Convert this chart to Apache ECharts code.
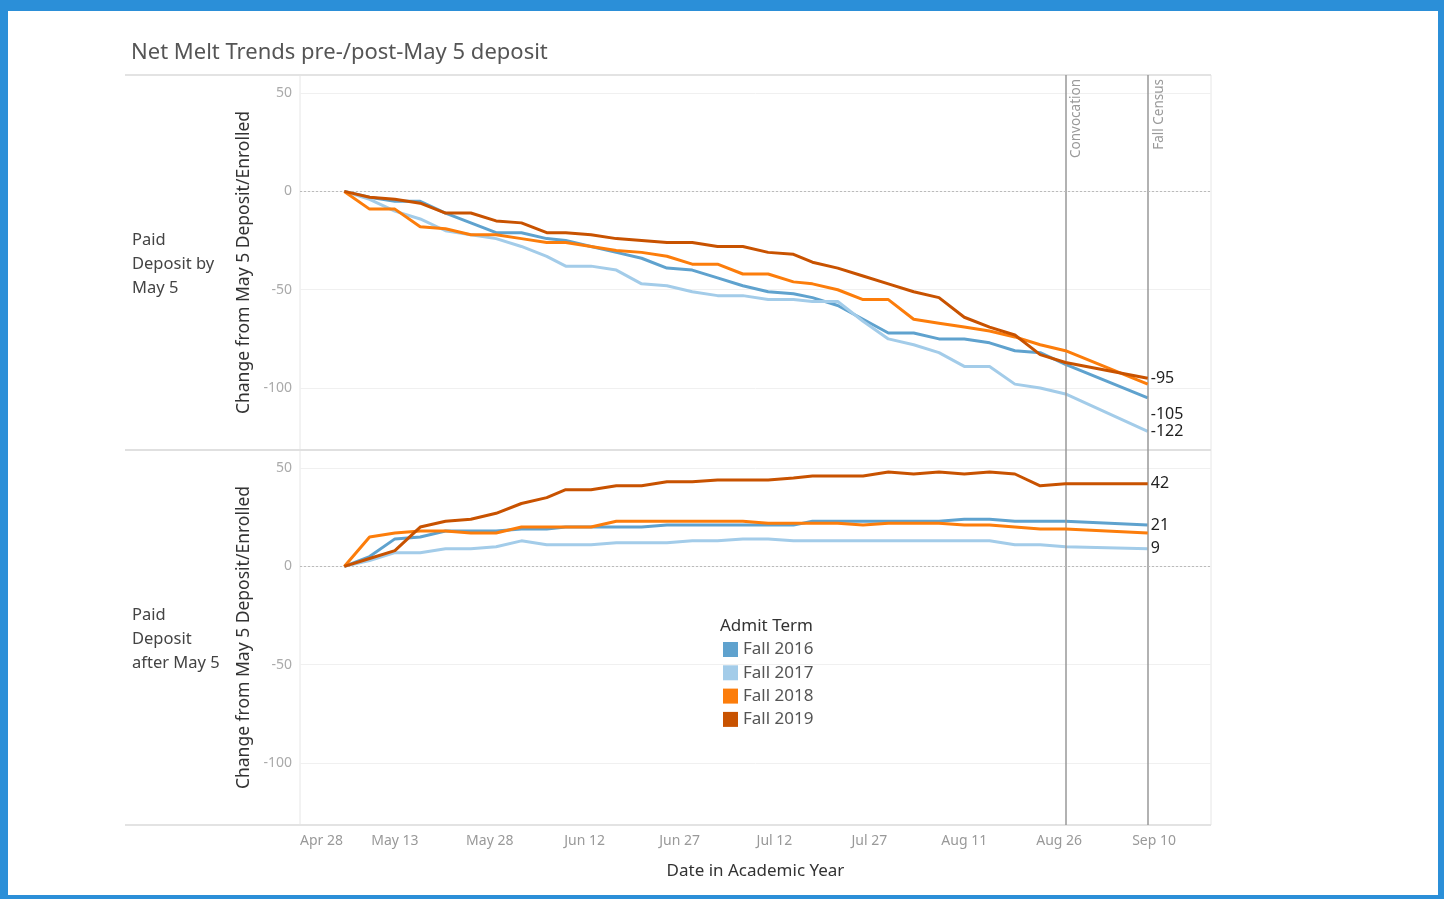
<!DOCTYPE html>
<html>
<head>
<meta charset="utf-8">
<title>Net Melt Trends</title>
<script src="https://cdn.jsdelivr.net/npm/echarts@6/dist/echarts.min.js"></script>
<style>
  html, body { margin: 0; padding: 0; background: #fff; }
  #chart { position: absolute; left: 0; top: 0; width: 1444px; height: 899px; }
  #frame {
    position: absolute; left: 0; top: 0; width: 1444px; height: 899px;
    box-sizing: border-box; border-style: solid; border-color: #2b8fd8;
    border-width: 11px 6px 4px 8px; pointer-events: none;
  }
</style>
</head>
<body>
<div id="chart"></div>
<div id="frame"></div>
<script>
// x axis: days counted from Apr 28
var tickDays = [0, 15, 30, 45, 60, 75, 90, 105, 120, 135];
var tickLabels = ['Apr 28', 'May 13', 'May 28', 'Jun 12', 'Jun 27', 'Jul 12', 'Jul 27', 'Aug 11', 'Aug 26', 'Sep 10'];
var yTicks = [50, 0, -50, -100];

var terms = ['Fall 2016', 'Fall 2017', 'Fall 2018', 'Fall 2019'];
var eventNames = ['Convocation', 'Fall Census'];
var eventDays = [121, 134];

// day 7 = May 5
var days = [7, 11, 15, 19, 23, 27, 31, 35, 39, 42, 46, 50, 54, 58, 62, 66, 70, 74, 78, 81,
  85, 89, 93, 97, 101, 105, 109, 113, 117, 121, 134];

// Paid deposit by May 5
var byMay5_2016 = [0, -3, -5, -5, -11, -16, -21, -21, -24, -25, -28, -31, -34, -39, -40, -44, -48, -51, -52, -54,
  -58, -65, -72, -72, -75, -75, -77, -81, -82, -88, -105];
var byMay5_2017 = [0, -4, -10, -14, -20, -22, -24, -28, -33, -38, -38, -40, -47, -48, -51, -53, -53, -55, -55, -56,
  -56, -66, -75, -78, -82, -89, -89, -98, -100, -103, -122];
var byMay5_2018 = [0, -9, -9, -18, -19, -22, -22, -24, -26, -26, -28, -30, -31, -33, -37, -37, -42, -42, -46, -47,
  -50, -55, -55, -65, -67, -69, -71, -74, -78, -81, -98];
var byMay5_2019 = [0, -3, -4, -6, -11, -11, -15, -16, -21, -21, -22, -24, -25, -26, -26, -28, -28, -31, -32, -36,
  -39, -43, -47, -51, -54, -64, -69, -73, -83, -87, -95];

// Paid deposit after May 5
var afterMay5_2016 = [0, 5, 14, 15, 18, 18, 18, 19, 19, 20, 20, 20, 20, 21, 21, 21, 21, 21, 21, 23,
  23, 23, 23, 23, 23, 24, 24, 23, 23, 23, 21];
var afterMay5_2017 = [0, 3, 7, 7, 9, 9, 10, 13, 11, 11, 11, 12, 12, 12, 13, 13, 14, 14, 13, 13,
  13, 13, 13, 13, 13, 13, 13, 11, 11, 10, 9];
var afterMay5_2018 = [0, 15, 17, 18, 18, 17, 17, 20, 20, 20, 20, 23, 23, 23, 23, 23, 23, 22, 22, 22,
  22, 21, 22, 22, 22, 21, 21, 20, 19, 19, 17];
var afterMay5_2019 = [0, 4, 8, 20, 23, 24, 27, 32, 35, 39, 39, 41, 41, 43, 43, 44, 44, 44, 45, 46,
  46, 46, 48, 47, 48, 47, 48, 47, 41, 42, 42];

var colors = ['#5fa2ce', '#a3cce9', '#fc7d0b', '#c85200'];
var font = 'Noto Sans';

var myChart = echarts.init(document.getElementById('chart'));

function pairs(vals) {
  return days.map(function (d, i) { return [d, vals[i]]; });
}

function xAxisFor(grid, show) {
  return {
    type: 'value', gridIndex: grid, min: 0, max: 144,
    axisLine: { show: false }, axisTick: { show: false }, splitLine: { show: false },
    name: show ? 'Date in Academic Year' : '',
    nameLocation: 'middle', nameGap: 38,
    nameTextStyle: { color: '#333', fontSize: 17, fontFamily: font },
    axisLabel: {
      show: show, margin: 9, color: '#999', fontSize: 14, fontFamily: font,
      customValues: tickDays, alignMinLabel: 'left',
      formatter: function (v) { return tickLabels[tickDays.indexOf(v)]; }
    }
  };
}

function yAxisFor(grid) {
  return {
    type: 'value', gridIndex: grid, min: -131.5, max: 59.2,
    name: 'Change from May 5 Deposit/Enrolled',
    nameLocation: 'middle', nameGap: 41,
    nameTextStyle: { color: '#333', fontSize: 17.5, fontFamily: font },
    axisLine: { show: false },
    axisTick: { show: false, customValues: yTicks },
    axisLabel: { margin: 8, color: '#aaa', fontSize: 14, fontFamily: font, customValues: yTicks },
    splitLine: { show: true, lineStyle: { color: '#f0f0f0', width: 1 } }
  };
}

function refLines(withLabel) {
  var data = eventDays.map(function (d, i) {
    return { xAxis: d, name: eventNames[i] };
  });
  data.push({ yAxis: 0, label: { show: false },
    lineStyle: { color: '#bbb', type: [2, 2], width: 1 } });
  return {
    symbol: 'none', silent: true, animation: false,
    lineStyle: { color: '#999', type: 'solid', width: 1.5 },
    label: {
      show: withLabel, formatter: '{b}', position: 'insideEndBottom', distance: 4,
      color: '#999', fontSize: 13.5, fontFamily: font
    },
    data: data
  };
}

function lineSeries(name, vals, grid, colorIdx, labelOffset, extra) {
  var s = {
    name: name, type: 'line', xAxisIndex: grid, yAxisIndex: grid,
    data: pairs(vals), showSymbol: false, symbol: 'none',
    lineStyle: { width: 3, color: colors[colorIdx] },
    itemStyle: { color: colors[colorIdx] },
    z: 3 + colorIdx,
    endLabel: labelOffset ? {
      show: true, distance: 3, offset: labelOffset,
      color: '#222', fontSize: 16, fontFamily: font,
      formatter: function (p) { return p.value[1]; }
    } : { show: false }
  };
  if (extra) s.markLine = extra;
  return s;
}

var option = {
  animation: false,
  textStyle: { fontFamily: font },
  title: {
    text: 'Net Melt Trends pre-/post-May 5 deposit',
    left: 126, top: 37,
    textStyle: { color: '#555', fontSize: 22, fontWeight: 'normal', fontFamily: font }
  },
  legend: {
    data: terms, orient: 'vertical', left: 723, top: 641, padding: 0,
    icon: 'rect', itemWidth: 15, itemHeight: 15, itemGap: 6.3,
    selectedMode: false,
    textStyle: { color: '#555', fontSize: 17, fontFamily: font }
  },
  grid: [
    { left: 300, top: 75, width: 911, height: 375, show: true, borderColor: '#e6e6e6', borderWidth: 1 },
    { left: 300, top: 450, width: 911, height: 375, show: true, borderColor: '#e6e6e6', borderWidth: 1 }
  ],
  xAxis: [xAxisFor(0, false), xAxisFor(1, true)],
  yAxis: [yAxisFor(0), yAxisFor(1)],
  graphic: [
    { type: 'line', shape: { x1: 125, y1: 75, x2: 1211, y2: 75 }, style: { stroke: '#e3e3e3', lineWidth: 2 } },
    { type: 'line', shape: { x1: 125, y1: 450, x2: 1211, y2: 450 }, style: { stroke: '#e0e0e0', lineWidth: 2 } },
    { type: 'line', shape: { x1: 125, y1: 825, x2: 1211, y2: 825 }, style: { stroke: '#e3e3e3', lineWidth: 2 } },
    { type: 'text', left: 132, top: 228, style: { text: 'Paid\nDeposit by\nMay 5', fill: '#444', fontSize: 16.5, lineHeight: 24, fontFamily: font } },
    { type: 'text', left: 132, top: 603, style: { text: 'Paid\nDeposit\nafter May 5', fill: '#444', fontSize: 16.5, lineHeight: 24, fontFamily: font } },
    { type: 'text', left: 720, top: 618, style: { text: 'Admit Term', fill: '#333', fontSize: 17, fontFamily: font } }
  ],
  series: [
    lineSeries(terms[0], byMay5_2016, 0, 0, [0, 17], refLines(true)),
    lineSeries(terms[1], byMay5_2017, 0, 1, [0, 0]),
    lineSeries(terms[2], byMay5_2018, 0, 2, null),
    lineSeries(terms[3], byMay5_2019, 0, 3, [0, 0]),
    lineSeries(terms[0], afterMay5_2016, 1, 0, [0, 0], refLines(false)),
    lineSeries(terms[1], afterMay5_2017, 1, 1, [0, 0]),
    lineSeries(terms[2], afterMay5_2018, 1, 2, null),
    lineSeries(terms[3], afterMay5_2019, 1, 3, [0, 0])
  ]
};

myChart.setOption(option);
</script>
</body>
</html>
